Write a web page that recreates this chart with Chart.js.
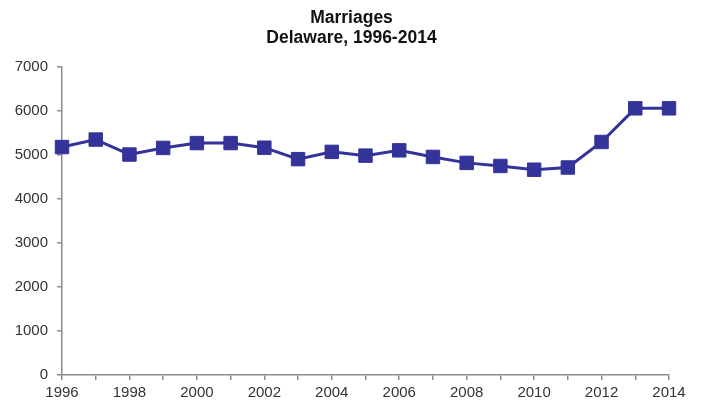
<!DOCTYPE html>
<html lang="en">
<head>
    <meta charset="UTF-8">
    <title>Marriages Delaware</title>
    <script src="https://cdn.jsdelivr.net/npm/chart.js"></script>
    <style>
        html, body { margin: 0; padding: 0; background: #fff; }
        #wrap { width: 703px; height: 400px; }
    </style>
</head>
<body>
<div id="wrap"><canvas id="marriagesChart" width="703" height="400"></canvas></div>
<script>
    // values
    var years = [1996, 1997, 1998, 1999, 2000, 2001, 2002, 2003, 2004, 2005,
                 2006, 2007, 2008, 2009, 2010, 2011, 2012, 2013, 2014];
    var marriages = [5180, 5350, 5010, 5160, 5270, 5270, 5165, 4905, 5070, 4985,
                     5105, 4955, 4820, 4750, 4665, 4715, 5295, 6060, 6060];
    var yTicks = [0, 1000, 2000, 3000, 4000, 5000, 6000, 7000];
    var titleLines = ['Marriages', 'Delaware, 1996-2014'];

    var points = years.map(function (yr, i) { return { x: yr, y: marriages[i] }; });
    var axisColor = '#8c8c8c';
    var navy = '#333399';
    var fontFam = 'Liberation Sans, Arial, sans-serif';

    // the title is centred on the whole canvas, not on the padded area
    var centerTitle = {
        id: 'centerTitle',
        afterLayout: function (chart) {
            var t = chart.titleBlock;
            if (!t) return;
            t.left = 0;
            t.right = chart.width;
            t.width = chart.width;
        }
    };

    new Chart(document.getElementById('marriagesChart').getContext('2d'), {
        type: 'line',
        data: {
            datasets: [{
                label: 'Marriages',
                data: points,
                borderColor: navy,
                backgroundColor: navy,
                borderWidth: 3,
                tension: 0,
                fill: false,
                pointStyle: 'rect',
                pointRadius: 9.5,
                pointBorderWidth: 1,
                pointBorderColor: navy,
                pointBackgroundColor: navy,
                clip: false
            }]
        },
        options: {
            responsive: false,
            animation: false,
            layout: { padding: { left: 0, right: 34, top: 0, bottom: 0 } },
            plugins: {
                legend: { display: false },
                tooltip: { enabled: false },
                title: {
                    display: true,
                    text: titleLines,
                    color: '#111',
                    font: { family: fontFam, size: 17.5, weight: 'bold', lineHeight: 1.17 },
                    padding: { top: 7.5, bottom: 18.5 }
                }
            },
            scales: {
                x: {
                    type: 'linear',
                    min: years[0],
                    max: years[years.length - 1],
                    afterFit: function (s) { s.height = 25; },
                    afterBuildTicks: function (s) {
                        s.ticks = years.map(function (v) { return { value: v }; });
                    },
                    border: { color: axisColor, width: 1.5 },
                    grid: { display: true, drawOnChartArea: false, drawTicks: true, tickLength: 5, color: axisColor, lineWidth: 1.5 },
                    ticks: {
                        autoSkip: false,
                        maxRotation: 0,
                        padding: 4,
                        color: '#333',
                        font: { family: fontFam, size: 15 },
                        callback: function (v) { return v % 2 === 0 ? String(v) : ''; }
                    }
                },
                y: {
                    min: 0,
                    max: 7000,
                    afterFit: function (s) { s.width = 62; },
                    afterBuildTicks: function (s) {
                        s.ticks = yTicks.map(function (v) { return { value: v }; });
                    },
                    border: { color: axisColor, width: 1.5 },
                    grid: { display: true, drawOnChartArea: false, drawTicks: true, tickLength: 5, color: axisColor, lineWidth: 1.5 },
                    ticks: {
                        padding: 9,
                        color: '#333',
                        font: { family: fontFam, size: 15 },
                        callback: function (v) { return String(v); }
                    }
                }
            }
        },
        plugins: [centerTitle]
    });
</script>
</body>
</html>
